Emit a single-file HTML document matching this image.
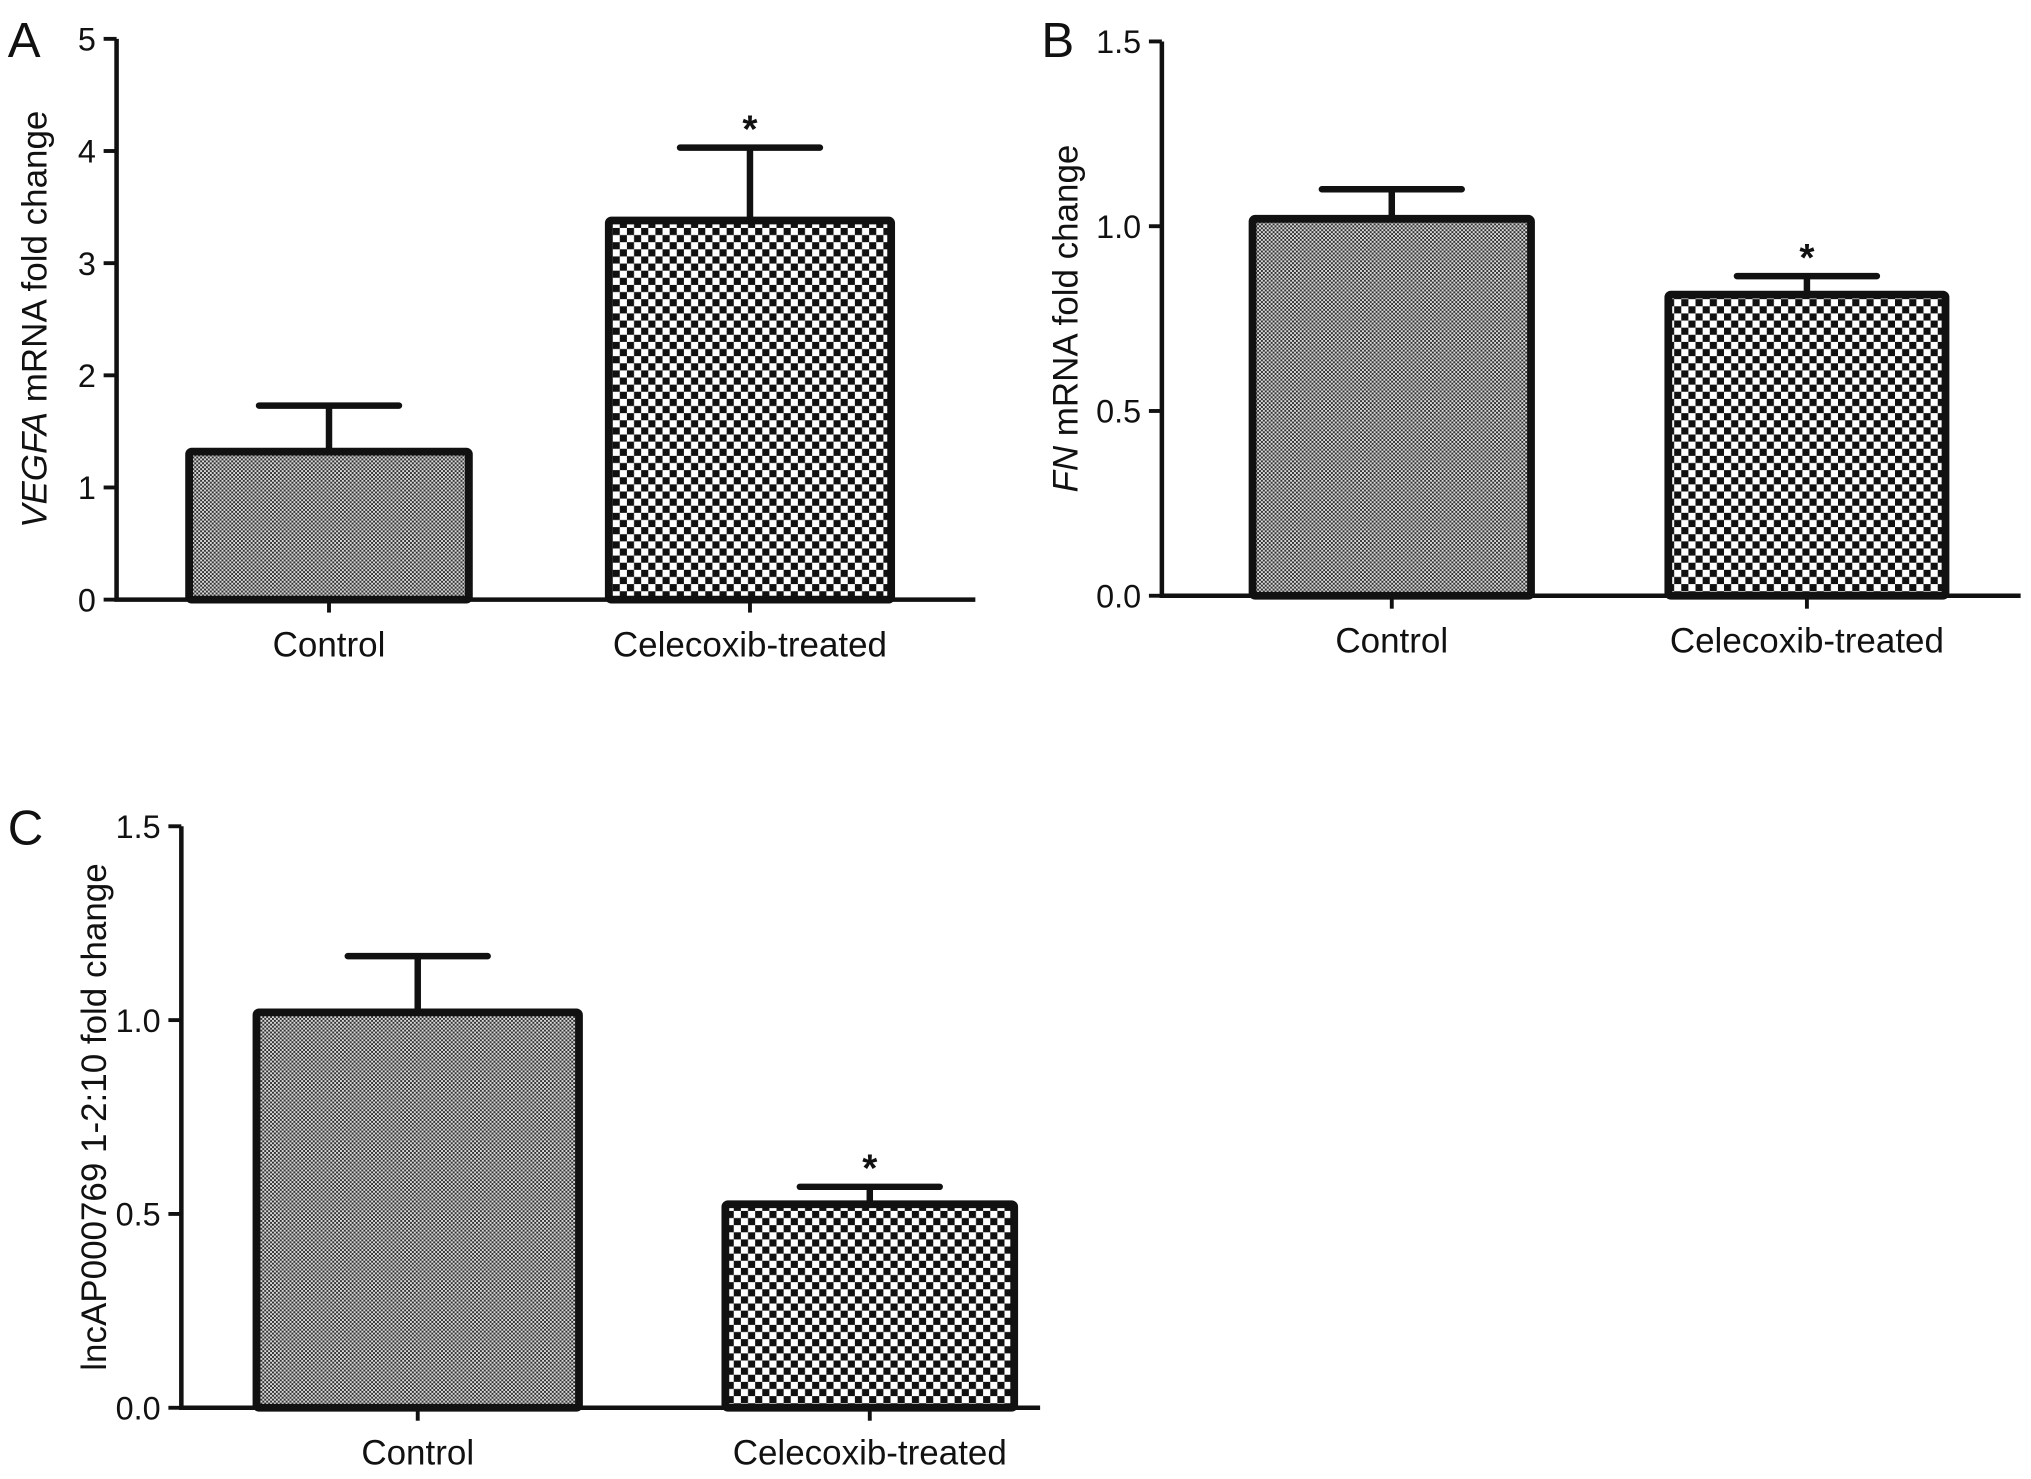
<!DOCTYPE html>
<html><head><meta charset="utf-8"><style>
html,body{margin:0;padding:0;background:#fff;}
svg{display:block;}
text{font-family:"Liberation Sans",Arial,sans-serif;fill:#111;}
</style></head>
<body>
<svg id="fig" width="2031" height="1479" viewBox="0 0 1568 1142" preserveAspectRatio="none" xmlns="http://www.w3.org/2000/svg">
<defs>
<pattern id="fine" patternUnits="userSpaceOnUse" width="3" height="3">
<rect width="3" height="3" fill="#d8d8d8"/><rect width="1.5" height="1.5" fill="#333"/><rect x="1.5" y="1.5" width="1.5" height="1.5" fill="#333"/>
</pattern>
<pattern id="check" patternUnits="userSpaceOnUse" width="11" height="11">
<rect width="11" height="11" fill="#fff"/><rect width="5.5" height="5.5" fill="#111"/><rect x="5.5" y="5.5" width="5.5" height="5.5" fill="#111"/>
</pattern>
</defs>
<g id="root"></g>
</svg>
<script>
const categories = ["Control", "Celecoxib-treated"];
const valuesA = [1.32, 3.38];
const errorsA = [1.73, 4.03];
const valuesB = [1.02, 0.815];
const errorsB = [1.10, 0.865];
const valuesC = [1.02, 0.525];
const errorsC = [1.165, 0.57];
const ticksA = [0, 1, 2, 3, 4, 5];
const tickLabelsA = ["0", "1", "2", "3", "4", "5"];
const ticksBC = [0, 0.5, 1.0, 1.5];
const tickLabelsBC = ["0.0", "0.5", "1.0", "1.5"];
const significant = [false, true];

const NS = "http://www.w3.org/2000/svg";
const root = document.getElementById("root");
function mk(tag, attrs, parent) {
  const e = document.createElementNS(NS, tag);
  for (const k in attrs) e.setAttribute(k, attrs[k]);
  (parent || root).appendChild(e);
  return e;
}

const panels = [
  {id:"a", letter:"A", lx:6, ly:44, ax:90, top:30, bot:463, right:753, ymax:5, ticks:ticksA, labels:tickLabelsA,
   vals:valuesA, errs:errorsA, bars:[[146,362],[470,688]], ylabel:["VEGFA"," mRNA fold change"], ylx:36},
  {id:"b", letter:"B", lx:804, ly:44, ax:897, top:32, bot:460, right:1560, ymax:1.5, ticks:ticksBC, labels:tickLabelsBC,
   vals:valuesB, errs:errorsB, bars:[[967,1182],[1288,1502]], ylabel:["FN"," mRNA fold change"], ylx:832},
  {id:"c", letter:"C", lx:6, ly:652, ax:140, top:638, bot:1087, right:803, ymax:1.5, ticks:ticksBC, labels:tickLabelsBC,
   vals:valuesC, errs:errorsC, bars:[[198,447],[560,783]], ylabel:["","lncAP000769 1-2:10 fold change"], ylx:82}
];

panels.forEach(p => {
  const g = mk("g", {});
  
  
  const y = v => p.bot - v / p.ymax * (p.bot - p.top);
  const L = mk("text", {x:p.lx, y:p.ly, "font-size":38}, g); L.textContent = p.letter;
  
  
  p.vals.forEach((v, i) => {
    const [x0, x1] = p.bars[i], cx = (x0 + x1) / 2;
    const e = p.errs[i];
    const eb = mk("path", {d:`M${cx} ${y(v)} V${y(e)} M${cx-54} ${y(e)} H${cx+54}`, stroke:"#111", "stroke-width":5, fill:"none", "stroke-linecap":"round"}, g);
    
    
    const r = mk("rect", {x:x0, y:y(v), width:x1-x0, height:p.bot-y(v), fill:i===0?"url(#fine)":"url(#check)", stroke:"#111", "stroke-width":6, rx:2}, g);
    
    
    if (significant[i]) {
      const s = mk("text", {x:cx, y:y(e)-4, "font-size":30, "text-anchor":"middle", "font-weight":"bold"}, g);
      s.textContent = "*";
      
      
    }
    const t = mk("line", {x1:cx, x2:cx, y1:p.bot, y2:p.bot+10, stroke:"#111", "stroke-width":3}, g);
    
    
    const xl = mk("text", {x:cx, y:p.bot+44, "font-size":27, "text-anchor":"middle"}, g);
    xl.textContent = categories[i];
    
    
  });
  const ax = mk("path", {d:`M${p.ax} ${p.top} V${p.bot} H${p.right}`, stroke:"#111", "stroke-width":3.5, fill:"none"}, g);
  
  
  p.ticks.forEach((tv, k) => {
    const tk = mk("line", {x1:p.ax-10, x2:p.ax, y1:y(tv), y2:y(tv), stroke:"#111", "stroke-width":3}, g);
    
    
    const tl = mk("text", {x:p.ax-16, y:y(tv)+9, "font-size":25, "text-anchor":"end"}, g);
    tl.textContent = p.labels[k];
    
    
  });
  const cy = (p.top + p.bot) / 2;
  const yl = mk("text", {x:0, y:0, "font-size":27, "text-anchor":"middle", transform:`translate(${p.ylx},${cy}) rotate(-90)`}, g);
  
  
  if (p.ylabel[0]) { const s = mk("tspan", {"font-style":"italic"}, yl); s.textContent = p.ylabel[0]; }
  const s2 = mk("tspan", {}, yl); s2.textContent = p.ylabel[1];
});
</script>
</body></html>
